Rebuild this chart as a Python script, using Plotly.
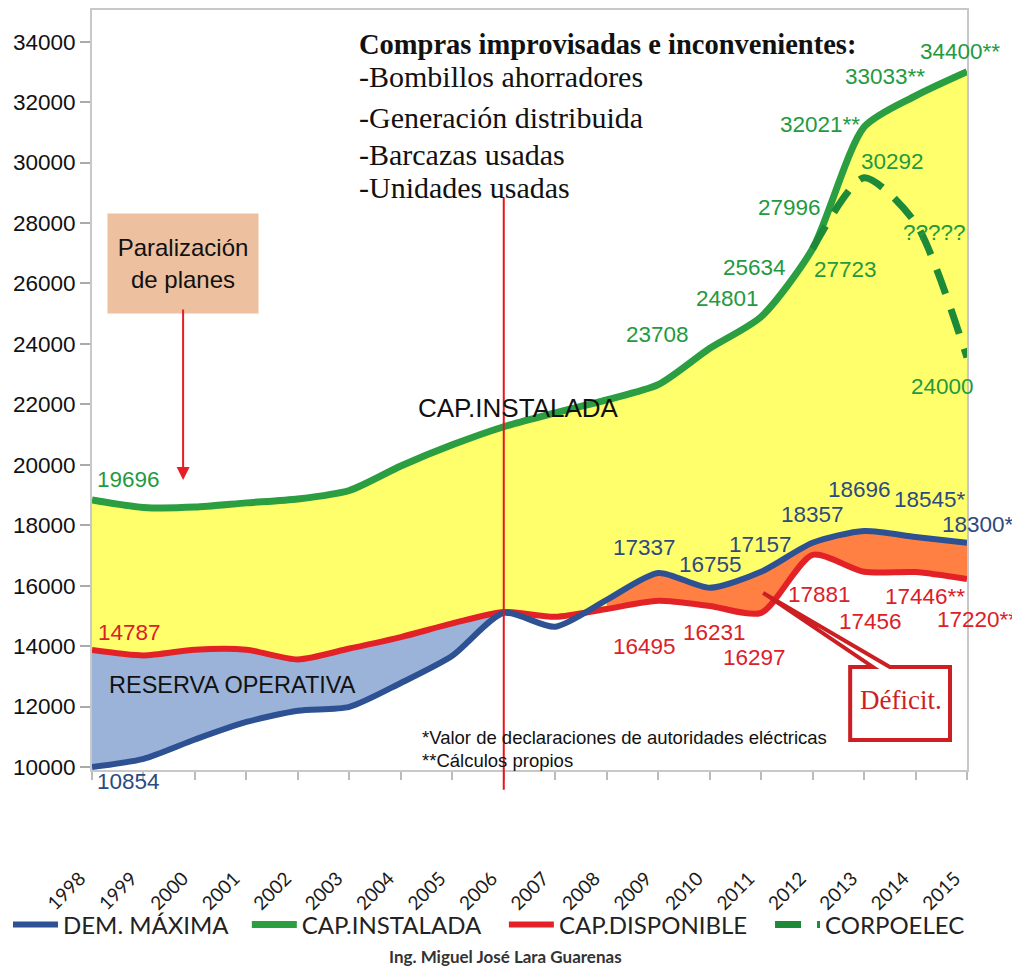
import plotly.graph_objects as go

years = list(range(1998, 2016))
dem_maxima = [10000, 10270, 10910, 11490, 11860, 11990, 12780, 13680, 15100, 14640,
              15530, 16420, 15930, 16460, 17420, 17810, 17610, 17420]
cap_instalada = [18840, 18590, 18600, 18740, 18870, 19150, 19960, 20660, 21260, 21720,
                 22150, 22650, 23850, 24900, 27150, 31180, 32210, 33010]
cap_disponible = [13870, 13690, 13880, 13880, 13560, 13920, 14300, 14750, 15130, 14970,
                  15230, 15500, 15330, 15100, 17020, 16460, 16450, 16220]
corpoelec_years = [2012, 2013, 2014, 2015]
corpoelec = [27150, 29500, 28000, 23550]

green_labels = ["19696", "23708", "24801", "25634", "27996", "27723",
                "32021**", "30292", "33033**", "34400**", "?????", "24000"]
red_labels = ["14787", "16495", "16231", "16297", "17881", "17456", "17446**", "17220**"]
blue_labels = ["10854", "17337", "16755", "17157", "18357", "18696", "18545*", "18300*"]

list_title = "Compras improvisadas e inconvenientes:"
list_items = ["-Bombillos ahorradores", "-Generación distribuida",
              "-Barcazas usadas", "-Unidades usadas"]
notes = ["*Valor de declaraciones de autoridades eléctricas", "**Cálculos propios"]

# where the value labels sit: (year, MW, xshift px, yshift px)
green_pos = [(1998.70, 19500, 0, 0), (2008.98, 24300, 0, 0), (2010.34, 25490, 0, 0),
             (2010.88, 26520, 0, 0), (2011.56, 28500, 0, 0), (2012.63, 26450, 0, 0),
             (2012.14, 31250, 0, 0), (2013.56, 30030, 0, 0), (2013.41, 32840, 0, 0),
             (2015, 33670, -7, 0), (2014.36, 27680, 0, 0), (2014.53, 22580, 0, 0)]
red_pos = [(1998.72, 14440, 0, 0), (2008.74, 13980, 0, 0), (2010.10, 14440, 0, 0),
           (2010.88, 13610, 0, 0), (2012.14, 15700, 0, 0), (2013.12, 14830, 0, 0),
           (2014.18, 15630, 0, 0), (2015, 14870, 10, 0)]
blue_pos = [(1998.70, 10000, 0, -15), (2008.74, 17250, 0, 0), (2010.01, 16690, 0, 0),
            (2010.98, 17350, 0, 0), (2012.00, 18370, 0, 0), (2012.92, 19170, 0, 0),
            (2014.28, 18840, 0, 0), (2015, 18030, 11, 0)]

BLUE = "#2d5192"
GREEN = "#2a9e40"
RED = "#e32228"
DASH_GREEN = "#1d8a3a"
YELLOW = "#ffff6b"
LIGHT_BLUE = "#9bb3d9"
ORANGE = "#ff8042"
SANS = "Liberation Sans, Arial, sans-serif"
SERIF = "Liberation Serif, Times New Roman, serif"
LEGEND_FONT = "Lato, Open Sans, sans-serif"

line_shape = dict(shape="spline", smoothing=0.7)

fig = go.Figure()

# yellow band: between available and installed capacity
fig.add_trace(go.Scatter(x=years, y=cap_disponible, mode="lines",
                         line=dict(width=0, **line_shape), showlegend=False, hoverinfo="skip"))
fig.add_trace(go.Scatter(x=years, y=cap_instalada, mode="lines", fill="tonexty",
                         fillcolor=YELLOW, line=dict(width=0, **line_shape),
                         showlegend=False, hoverinfo="skip"))

# operating reserve up to 2006
cut = years.index(2006) + 1
fig.add_trace(go.Scatter(x=years[:cut], y=cap_disponible[:cut], mode="lines",
                         line=dict(width=0, **line_shape), showlegend=False, hoverinfo="skip"))
fig.add_trace(go.Scatter(x=years[:cut], y=dem_maxima[:cut], mode="lines", fill="tonexty",
                         fillcolor=LIGHT_BLUE, line=dict(width=0, **line_shape),
                         showlegend=False, hoverinfo="skip"))

# deficit from 2008
start = years.index(2008)
fig.add_trace(go.Scatter(x=years[start:], y=cap_disponible[start:], mode="lines",
                         line=dict(width=0, **line_shape), showlegend=False, hoverinfo="skip"))
fig.add_trace(go.Scatter(x=years[start:], y=dem_maxima[start:], mode="lines", fill="tonexty",
                         fillcolor=ORANGE, line=dict(width=0, **line_shape),
                         showlegend=False, hoverinfo="skip"))

fig.add_trace(go.Scatter(x=years, y=cap_disponible, mode="lines", name="CAP.DISPONIBLE",
                         line=dict(color=RED, width=6, **line_shape), legend="legend3"))
fig.add_trace(go.Scatter(x=years, y=dem_maxima, mode="lines", name="DEM. MÁXIMA",
                         line=dict(color=BLUE, width=6, **line_shape), legend="legend"))
fig.add_trace(go.Scatter(x=years, y=cap_instalada, mode="lines", name="CAP.INSTALADA",
                         line=dict(color=GREEN, width=7, **line_shape), legend="legend2"))
fig.add_trace(go.Scatter(x=corpoelec_years, y=corpoelec, mode="lines", name="CORPOELEC",
                         line=dict(color=DASH_GREEN, width=7, dash="26px,16px", **line_shape),
                         legend="legend4"))

annotations = []
for labels, pos, color in [(green_labels, green_pos, "#239a40"),
                           (red_labels, red_pos, "#dc2027"),
                           (blue_labels, blue_pos, "#2c4a80")]:
    for text, (x, y, dx, dy) in zip(labels, pos):
        annotations.append(dict(x=x, y=y, xshift=dx, yshift=dy, text=text, showarrow=False,
                                font=dict(family=SANS, size=22.5, color=color)))

annotations.append(dict(x=2003.15, y=33900, text=f"<b>{list_title}</b>", showarrow=False,
                        xanchor="left", font=dict(family=SERIF, size=28.5, color="#111")))
for text, y in zip(list_items, [32840, 31480, 30260, 29170]):
    annotations.append(dict(x=2003.15, y=y, text=text, showarrow=False, xanchor="left",
                            font=dict(family=SERIF, size=30, color="#111")))

for text, y in zip(notes, [10960, 10230]):
    annotations.append(dict(x=2004.37, y=y, text=text, showarrow=False, xanchor="left",
                            font=dict(family=SANS, size=18.5, color="#111")))

annotations += [
    dict(x=2006.28, y=21880, text="CAP.INSTALADA", showarrow=False,
         font=dict(family=SANS, size=26, color="#111")),
    dict(x=2000.72, y=12710, text="RESERVA OPERATIVA", showarrow=False,
         font=dict(family=SANS, size=23.5, color="#111")),
    dict(x=1999.77, y=26650, text="Paralización<br>de planes", showarrow=False,
         width=150, height=99, bgcolor="#edc09f", borderpad=0,
         font=dict(family=SANS, size=24, color="#111")),
    dict(x=1999.77, y=19500, ax=0, ay=-172, text="", showarrow=True,
         arrowhead=2, arrowsize=1.3, arrowwidth=2, arrowcolor="#e61e25"),
    dict(x=2013.72, y=12220, text="Déficit.", showarrow=False,
         font=dict(family=SERIF, size=27, color="#cc1f24")),
    dict(x=0.472, y=-0.245, xref="paper", yref="paper", yanchor="middle",
         text="<b>Ing. Miguel José Lara Guarenas</b>",
         showarrow=False, font=dict(family=LEGEND_FONT, size=17, color="#333")),
]

callout = ("M 2011.04,15760 L 2013.17,13310 L 2012.73,13310 L 2012.73,10894 "
           "L 2014.67,10894 L 2014.67,13310 L 2013.50,13310 Z")


def legend_at(x):
    return dict(orientation="h", xref="container", yref="container", x=x,
                xanchor="left", y=0.0458, yanchor="middle",
                font=dict(family=LEGEND_FONT, size=24, color="#222"),
                itemwidth=45, bgcolor="rgba(0,0,0,0)")


# the page body adds an 8px offset, so the figure is drawn 8px smaller
fig.update_layout(
    width=1012,
    height=961,
    margin=dict(l=84, r=53, t=2, b=199, autoexpand=False),
    plot_bgcolor="white",
    paper_bgcolor="white",
    annotations=annotations,
    shapes=[
        dict(type="line", x0=2006, x1=2006, xref="x", yref="paper", y0=-0.026, y1=0.753,
             line=dict(color="#e8141c", width=2)),
        dict(type="path", path=callout, xref="x", yref="y", fillcolor="white",
             line=dict(color="#cc1f24", width=4)),
    ],
    xaxis=dict(range=[1998, 2015], tickvals=years, tickangle=-45, ticks="outside",
               ticklen=8, tickwidth=2, tickcolor="#bbbbbb", showline=True,
               linecolor="#c8c8c8", linewidth=2, mirror=True, showgrid=False,
               zeroline=False, ticklabelstandoff=80, ticklabelshift=-12, automargin=False,
               tickfont=dict(family=LEGEND_FONT, size=19, color="#1a1a1a")),
    yaxis=dict(range=[9900, 35050], tickvals=list(range(10000, 34001, 2000)),
               tickformat="d", ticks="outside", ticklen=10, tickwidth=2,
               tickcolor="#aaaaaa", showline=True, linecolor="#c8c8c8", linewidth=2,
               mirror=True, showgrid=False, zeroline=False, automargin=False,
               tickfont=dict(family=SANS, size=22.5, color="#111")),
    legend=legend_at(-0.010),
    legend2=legend_at(0.236),
    legend3=legend_at(0.490),
    legend4=legend_at(0.753),
    showlegend=True,
)

fig.write_html("out.html")
